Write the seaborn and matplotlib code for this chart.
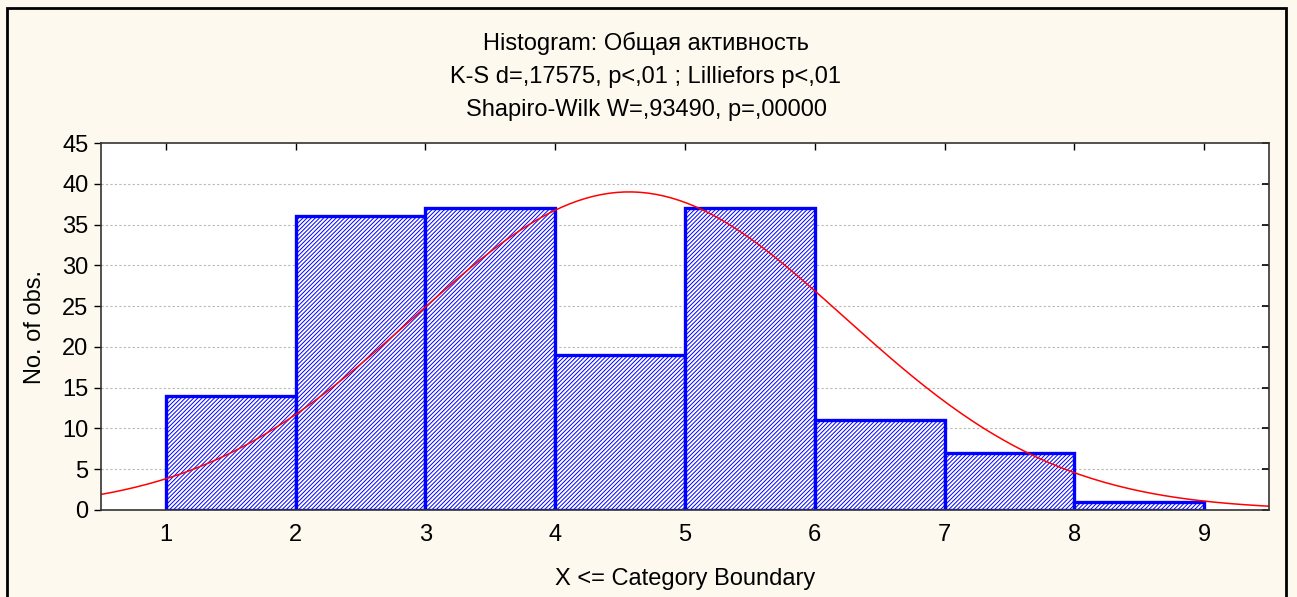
import numpy as np
import pandas as pd
import matplotlib
matplotlib.use("Agg")
import matplotlib.pyplot as plt
import seaborn as sns
from matplotlib.patches import Rectangle

sns.set_theme(style="white")
plt.rcParams['font.family'] = ['Liberation Sans', 'DejaVu Sans']
plt.rcParams['hatch.linewidth'] = 0.7

# histogram data (category boundaries and counts)
bin_edges = [1, 2, 3, 4, 5, 6, 7, 8, 9]
counts = [14, 36, 37, 19, 37, 11, 7, 1]

# fitted normal curve parameters
fit_mean = 4.57
fit_sd = 1.657

title_lines = [
    "Histogram: Общая активность",
    "K-S d=,17575, p<,01 ; Lilliefors p<,01",
    "Shapiro-Wilk W=,93490, p=,00000",
]

FS = 17

df = pd.DataFrame({
    "x": [(a + b) / 2 for a, b in zip(bin_edges[:-1], bin_edges[1:])],
    "n": counts,
})

fig = plt.figure(figsize=(12.97, 5.97), dpi=100)
fig.patch.set_facecolor('#fdf9ee')
ax = fig.add_axes([101 / 1297, 1 - 510 / 597, (1269 - 101) / 1297, (510 - 143) / 597])
ax.set_facecolor('white')

sns.histplot(data=df, x="x", weights="n", bins=bin_edges, ax=ax,
             stat="count", fill=True, color="#0000ff", alpha=1.0,
             edgecolor="#0000ff", linewidth=2.4)
for p in ax.patches:
    p.set_facecolor('white')
    p.set_edgecolor('#0000ff')
    p.set_hatch('////////')

# normal fit curve
n_total = sum(counts)
bw = bin_edges[1] - bin_edges[0]
xs = np.linspace(0.5, 9.5, 300)
ys = n_total * bw / (fit_sd * np.sqrt(2 * np.pi)) * np.exp(-0.5 * ((xs - fit_mean) / fit_sd) ** 2)
sns.lineplot(x=xs, y=ys, ax=ax, color='#ff0000', linewidth=1.1)

ax.set_xlim(0.5, 9.5)
ax.set_ylim(0, 45)
ax.set_xticks(range(1, 10))
ax.set_yticks(range(0, 50, 5))
for y in range(5, 45, 5):
    ax.axhline(y, color='#b8b8b8', linestyle=(0, (2, 2)), linewidth=0.8, zorder=0)

ax.tick_params(axis='both', labelsize=FS, colors='black', length=5, width=1)
ax.tick_params(axis='x', direction='in', top=True, bottom=False, pad=10)
ax.tick_params(axis='y', direction='out', left=True, right=False, pad=4)
sec = ax.secondary_yaxis('right')
sec.set_yticks(range(0, 50, 5))
sec.tick_params(direction='in', length=5, width=1.2, labelright=False, colors='black')
sec.spines['right'].set_visible(False)
for s in ax.spines.values():
    s.set_color('#333333')
    s.set_linewidth(1.2)

ax.set_xlabel("X <= Category Boundary", fontsize=FS, color='black', labelpad=16)
ax.set_ylabel("No. of obs.", fontsize=FS, color='black', labelpad=12)

for i, line in enumerate(title_lines):
    fig.text(646 / 1297, 1 - (43 + 33.5 * i) / 597, line, ha='center', va='center',
             fontsize=FS, color='black')

# outer frame
fig.add_artist(Rectangle((7 / 1297, -0.1), (1286 - 7) / 1297, 1.1 - 8 / 597,
                         transform=fig.transFigure, fill=False,
                         edgecolor='black', linewidth=2))

fig.savefig("out.png", dpi=100, facecolor=fig.get_facecolor())
